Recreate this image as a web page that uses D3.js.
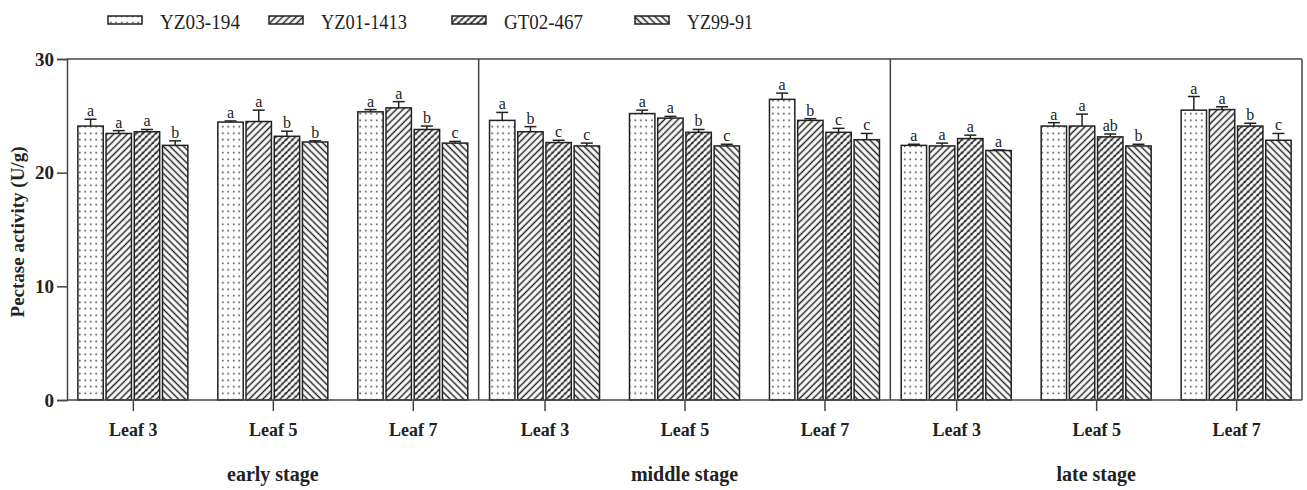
<!DOCTYPE html>
<html>
<head>
<meta charset="utf-8">
<script src="https://cdn.jsdelivr.net/npm/d3@7"></script>
<style>
  body { margin: 0; background: #fff; }
  text { font-family: "Liberation Serif", "Times New Roman", serif; fill: #222; }
</style>
</head>
<body>
<script>
(function(){
    var stages = ["early stage", "middle stage", "late stage"];
    var leaves = ["Leaf 3", "Leaf 5", "Leaf 7"];
    var series = ["YZ03-194", "YZ01-1413", "GT02-467", "YZ99-91"];
    var yTicks = [0, 10, 20, 30];

    // values in order: early L3, L5, L7, middle L3, L5, L7, late L3, L5, L7
    var vYZ03 = [24.1, 24.45, 25.35, 24.6, 25.2, 26.45, 22.4, 24.1, 25.5];
    var vYZ01 = [23.45, 24.5, 25.7, 23.6, 24.8, 24.6, 22.35, 24.1, 25.55];
    var vGT02 = [23.6, 23.2, 23.8, 22.65, 23.55, 23.55, 23.0, 23.15, 24.1];
    var vYZ99 = [22.4, 22.7, 22.6, 22.35, 22.35, 22.9, 21.95, 22.35, 22.85];

    var eYZ03 = [0.6, 0.1, 0.2, 0.7, 0.3, 0.55, 0.1, 0.3, 1.2];
    var eYZ01 = [0.25, 1.0, 0.55, 0.45, 0.15, 0.15, 0.25, 1.05, 0.25];
    var eGT02 = [0.2, 0.45, 0.3, 0.2, 0.25, 0.35, 0.3, 0.25, 0.25];
    var eYZ99 = [0.4, 0.1, 0.15, 0.25, 0.15, 0.55, 0.05, 0.15, 0.6];

    var lYZ03 = ["a","a","a","a","a","a","a","a","a"];
    var lYZ01 = ["a","a","a","b","a","b","a","a","a"];
    var lGT02 = ["a","b","b","c","b","c","a","ab","b"];
    var lYZ99 = ["b","b","c","c","c","c","a","b","c"];

    var values = [vYZ03, vYZ01, vGT02, vYZ99];
    var errors = [eYZ03, eYZ01, eGT02, eYZ99];
    var letters = [lYZ03, lYZ01, lGT02, lYZ99];
    var fills = ["url(#pDots)", "url(#pFwd)", "url(#pWeave)", "url(#pBack)"];

    var W = 1307, H = 490;
    var svg = d3.select("body").append("svg")
        .attr("width", W).attr("height", H);

    // patterns
    var defs = svg.append("defs");
    var p = defs.append("pattern").attr("id", "pDots")
        .attr("patternUnits", "userSpaceOnUse").attr("width", 5.5).attr("height", 6.5);
    p.append("rect").attr("width", 5.5).attr("height", 6.5).attr("fill", "#fff");
    p.append("circle").attr("cx", 2.75).attr("cy", 3.25).attr("r", 0.9).attr("fill", "#444");

    p = defs.append("pattern").attr("id", "pFwd")
        .attr("patternUnits", "userSpaceOnUse").attr("width", 4.8).attr("height", 4.8)
        .attr("patternTransform", "rotate(45)");
    p.append("rect").attr("width", 4.8).attr("height", 4.8).attr("fill", "#fff");
    p.append("line").attr("x1", 2.4).attr("y1", 0).attr("x2", 2.4).attr("y2", 4.8)
        .attr("stroke", "#222").attr("stroke-width", 1.5);

    p = defs.append("pattern").attr("id", "pBack")
        .attr("patternUnits", "userSpaceOnUse").attr("width", 4.8).attr("height", 4.8)
        .attr("patternTransform", "rotate(-45)");
    p.append("rect").attr("width", 4.8).attr("height", 4.8).attr("fill", "#fff");
    p.append("line").attr("x1", 2.4).attr("y1", 0).attr("x2", 2.4).attr("y2", 4.8)
        .attr("stroke", "#222").attr("stroke-width", 1.5);

    p = defs.append("pattern").attr("id", "pWeave")
        .attr("patternUnits", "userSpaceOnUse").attr("width", 6.5).attr("height", 6.5);
    p.append("rect").attr("width", 6.5).attr("height", 6.5).attr("fill", "#2a2a2a");
    [[3.25, 3.25], [0, 0], [6.5, 0], [0, 6.5], [6.5, 6.5]].forEach(function(c) {
        p.append("ellipse").attr("cx", c[0]).attr("cy", c[1])
            .attr("rx", 2.6).attr("ry", 1.6).attr("fill", "#fff")
            .attr("transform", "rotate(-45 " + c[0] + " " + c[1] + ")");
    });

    // scales
    var left = 67, right = 1302, top = 59, bottom = 400;
    var y = d3.scaleLinear().domain([0, 30]).range([bottom, top]);
    var x0 = d3.scaleBand().domain(stages).range([left, right]);
    var pw = x0.bandwidth();
    var x1 = d3.scalePoint().domain(leaves).range([pw * 0.16, pw * 0.84]);
    var x2 = d3.scaleBand().domain(series).range([-55, 55]).paddingInner(0.1);

    // bars
    var rows = [];
    stages.forEach(function(st, si) {
        leaves.forEach(function(lf, li) {
            series.forEach(function(se, k) {
                var idx = si * 3 + li;
                rows.push({stage: st, leaf: lf, s: se, k: k,
                    v: values[k][idx], e: errors[k][idx], l: letters[k][idx]});
            });
        });
    });
    function bx(d) { return x0(d.stage) + x1(d.leaf) + x2(d.s); }

    var g = svg.append("g");
    g.selectAll("rect.bar").data(rows).enter().append("rect").attr("class", "bar")
        .attr("x", bx).attr("width", x2.bandwidth())
        .attr("y", function(d) { return y(d.v); })
        .attr("height", function(d) { return y(0) - y(d.v); })
        .attr("fill", function(d) { return fills[d.k]; })
        .attr("stroke", "#222").attr("stroke-width", 1.5);

    // error bars
    var cw = x2.bandwidth() / 2;
    g.selectAll("line.err").data(rows).enter().append("line").attr("class", "err")
        .attr("x1", function(d) { return bx(d) + cw; })
        .attr("x2", function(d) { return bx(d) + cw; })
        .attr("y1", function(d) { return y(d.v); })
        .attr("y2", function(d) { return y(d.v + d.e); })
        .attr("stroke", "#222").attr("stroke-width", 1.5);
    g.selectAll("line.cap").data(rows).enter().append("line").attr("class", "cap")
        .attr("x1", function(d) { return bx(d) + cw - 6; })
        .attr("x2", function(d) { return bx(d) + cw + 6; })
        .attr("y1", function(d) { return y(d.v + d.e); })
        .attr("y2", function(d) { return y(d.v + d.e); })
        .attr("stroke", "#222").attr("stroke-width", 1.5);
    g.selectAll("text.sig").data(rows).enter().append("text").attr("class", "sig")
        .attr("x", function(d) { return bx(d) + cw; })
        .attr("y", function(d) { return y(d.v + d.e) - 3; })
        .attr("text-anchor", "middle").attr("font-size", 16)
        .text(function(d) { return d.l; });

    // frame
    var ax = "#444";
    svg.append("line").attr("x1", left).attr("x2", right).attr("y1", top).attr("y2", top)
        .attr("stroke", ax).attr("stroke-width", 1.5);
    stages.forEach(function(st, i) {
        if (i > 0) {
            svg.append("line").attr("x1", x0(st)).attr("x2", x0(st))
                .attr("y1", top).attr("y2", bottom).attr("stroke", ax).attr("stroke-width", 1.5);
        }
    });
    svg.append("line").attr("x1", right).attr("x2", right).attr("y1", top).attr("y2", bottom)
        .attr("stroke", ax).attr("stroke-width", 1.5);

    // y axis
    var yAxis = svg.append("g").attr("transform", "translate(" + left + ",0)")
        .call(d3.axisLeft(y).tickValues(yTicks).tickSize(10).tickPadding(3));
    yAxis.select(".domain").attr("stroke", ax).attr("stroke-width", 1.5);
    yAxis.selectAll(".tick line").attr("stroke", ax).attr("stroke-width", 1.5);
    yAxis.selectAll(".tick text")
        .attr("font-size", 19).attr("font-weight", "bold").attr("fill", "#222");

    // x axis per stage
    stages.forEach(function(st) {
        var xa = svg.append("g").attr("transform", "translate(" + x0(st) + "," + bottom + ")")
            .call(d3.axisBottom(x1).tickSize(11).tickPadding(12).tickSizeOuter(0));
        xa.select(".domain").attr("d", "M0,0H" + pw).attr("stroke", ax).attr("stroke-width", 1.5);
        xa.selectAll(".tick line").attr("stroke", ax).attr("stroke-width", 1.5);
        xa.selectAll(".tick text")
            .attr("font-size", 18).attr("font-weight", "bold").attr("fill", "#222");
        svg.append("text").attr("x", x0(st) + x1("Leaf 5")).attr("y", 481)
            .attr("text-anchor", "middle").attr("font-size", 20).attr("font-weight", "bold")
            .text(st);
    });

    // y label
    svg.append("text").attr("transform", "translate(24,232) rotate(-90)")
        .attr("text-anchor", "middle").attr("font-size", 19).attr("font-weight", "bold")
        .text("Pectase activity (U/g)");

    // legend
    var legX = [108, 269, 452, 635];
    var legW = [80, 86, 79, 66];
    var leg = svg.selectAll("g.leg").data(series).enter().append("g").attr("class", "leg")
        .attr("transform", function(d, i) { return "translate(" + legX[i] + ",0)"; });
    leg.append("rect").attr("x", 0).attr("y", 16).attr("width", 34).attr("height", 8)
        .attr("fill", function(d, i) { return fills[i]; })
        .attr("stroke", "#222").attr("stroke-width", 1.5);
    leg.append("text").attr("x", 52).attr("y", 29).attr("font-size", 22)
        .attr("textLength", function(d, i) { return legW[i]; })
        .attr("lengthAdjust", "spacingAndGlyphs")
        .text(function(d) { return d; });
})();
</script>
</body>
</html>
